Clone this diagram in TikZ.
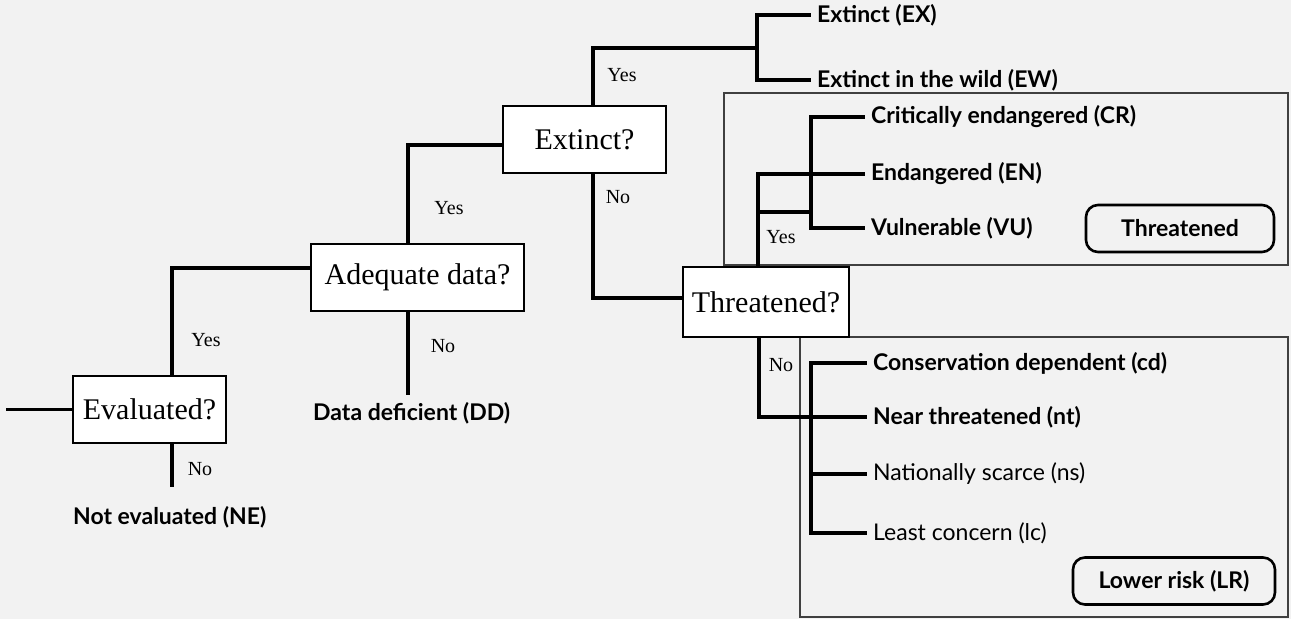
\documentclass[tikz,border=0pt]{standalone}
\usepackage{fontspec}
\newfontfamily\catfont{Lato}
\newfontfamily\qfont{Liberation Serif}
\begin{document}
\begin{tikzpicture}[x=1pt,y=-1pt,
  qbox/.style={draw, line width=2.2pt, fill=white, minimum height=67pt, inner sep=0pt,
    font=\qfont\fontsize{30}{32}\selectfont},
  leaf/.style={anchor=west, inner xsep=8pt, inner ysep=0pt, font=\catfont\bfseries\fontsize{23}{26}\selectfont},
  leafreg/.style={leaf, font=\catfont\fontsize{23}{26}\selectfont},
  outcome/.style={anchor=west, inner sep=0pt, font=\catfont\bfseries\fontsize{23}{26}\selectfont},
  yn/.style={inner sep=0pt, font=\qfont\fontsize{20}{22}\selectfont},
  conn/.style={line width=3.8pt, line join=miter, line cap=rect},
  region/.style={line width=1.4pt, draw=black!75},
  tag/.style={draw, line width=2.6pt, rounded corners=12pt, inner sep=0pt, minimum height=47pt,
    font=\catfont\bfseries\fontsize{23}{26}\selectfont}
]
\useasboundingbox (0,0) rectangle (1291,619);
\fill[black!5] (0,0) rectangle (1291,619);

% grouping frames
\draw[region] (724,93) rectangle (1288,265);
\draw[region] (800,337) rectangle (1288,617);

% question boxes
\node[qbox, minimum width=153pt] (eval) at (149.5,409.5) {Evaluated?};
\node[qbox, minimum width=213pt] (adeq) at (417.5,277.5) {Adequate data?};
\node[qbox, minimum width=163pt] (ext) at (584.5,139.5) {Extinct?};
\node[qbox, minimum width=166pt, minimum height=70pt] (thr) at (766,302) {Threatened?};

% category leaves
\node[leaf] (ex) at (809,15) {Extinct (EX)};
\node[leaf] (ew) at (809,80) {Extinct in the wild (EW)};
\node[leaf] (cr) at (863,117) {Critically endangered (CR)};
\node[leaf] (en) at (863,174) {Endangered (EN)};
\node[leaf] (vu) at (863,228) {Vulnerable (VU)};
\node[leaf] (cd) at (865,363) {Conservation dependent (cd)};
\node[leaf] (nt) at (865,417) {Near threatened (nt)};
\node[leafreg] (ns) at (865,474) {Nationally scarce (ns)};
\node[leafreg] (lc) at (865,533) {Least concern (lc)};
\node[outcome] (ne) at (73,517) {Not evaluated (NE)};
\node[outcome] (dd) at (313,413) {Data deficient (DD)};

% group tags
\node[tag, minimum width=188pt] (tthr) at (1180,228.5) {Threatened};
\node[tag, minimum width=202pt] (tlr) at (1174,581) {Lower risk (LR)};

% connectors
\coordinate (s0) at (8,409.5);
\draw[conn] (s0) -- (eval.west);

\coordinate (j1) at (172,268);
\coordinate (e1) at (172,485);
\draw[conn] (eval.north -| j1) -- (j1) -- (adeq.west |- j1);
\draw[conn] (eval.south -| j1) -- (e1);

\coordinate (j2) at (408,145);
\coordinate (e2) at (408,393);
\draw[conn] (adeq.north -| j2) -- (j2) -- (ext.west |- j2);
\draw[conn] (adeq.south -| j2) -- (e2);

\coordinate (j3) at (593,48);
\coordinate (b1) at (757,48);
\draw[conn] (ext.north -| j3) -- (j3) -- (b1);
\draw[conn] (ex.west) -| (b1) |- (ew.west);

\coordinate (j4) at (593,298);
\draw[conn] (ext.south -| j4) -- (j4) -- (thr.west |- j4);

\coordinate (j5) at (758,174);
\coordinate (b2) at (811,212);
\draw[conn] (thr.north -| j5) -- (j5) -- (en.west);
\draw[conn] (b2 -| j5) -- (b2);
\draw[conn] (cr.west) -| (b2) |- (vu.west);

\coordinate (j6) at (759,417);
\coordinate (b3) at (811,450);
\draw[conn] (thr.south -| j6) -- (j6) -- (nt.west);
\draw[conn] (cd.west) -| (b3) |- (lc.west);
\draw[conn] (ns.west) -- (ns.west -| b3);

% yes / no labels
\node[yn] (y1) at (206,340) {Yes};
\node[yn] (n1) at (200,469) {No};
\node[yn] (y2) at (449,208) {Yes};
\node[yn] (n2) at (443,346) {No};
\node[yn] (y3) at (622,75) {Yes};
\node[yn] (n3) at (618,197) {No};
\node[yn] (y4) at (781,237) {Yes};
\node[yn] (n4) at (781,365) {No};
\end{tikzpicture}
\end{document}
